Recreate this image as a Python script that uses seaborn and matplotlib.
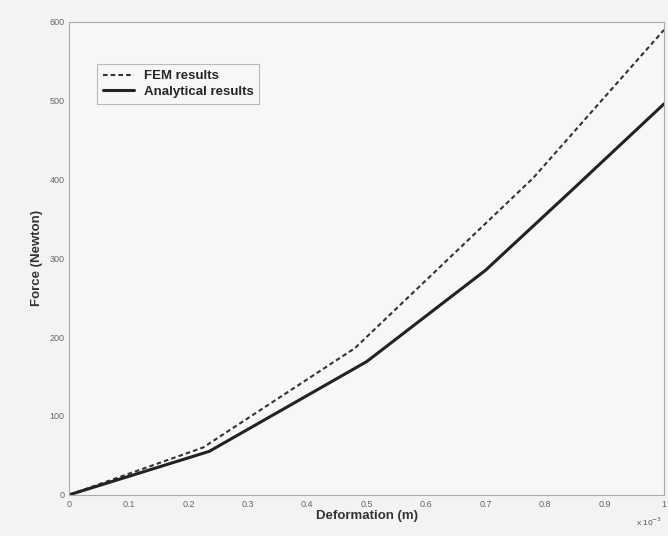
import matplotlib
matplotlib.use("Agg")
import matplotlib.pyplot as plt
import seaborn as sns
import pandas as pd

# Deformation in units of 1e-3 m
fem_x = [0.0, 0.225, 0.48, 0.78, 1.0]
fem_y = [0.0, 60.0, 186.0, 402.0, 590.0]
ana_x = [0.0, 0.235, 0.5, 0.7, 0.85, 1.0]
ana_y = [0.0, 55.0, 169.0, 285.0, 390.0, 496.0]
xticks = [0, 0.1, 0.2, 0.3, 0.4, 0.5, 0.6, 0.7, 0.8, 0.9, 1]
xtick_labels = ["0", "0.1", "0.2", "0.3", "0.4", "0.5", "0.6", "0.7", "0.8", "0.9", "1"]
yticks = [0, 100, 200, 300, 400, 500, 600]

sns.set_style("white")
plt.rcParams['font.family'] = ['Liberation Sans', 'DejaVu Sans']

fig = plt.figure(figsize=(6.68, 5.36), dpi=100, facecolor="#f3f3f3")
ax = fig.add_axes([0.104, 0.077, 0.890, 0.882])
ax.set_facecolor("#f7f7f7")

fem = pd.DataFrame({"x": fem_x, "y": fem_y})
ana = pd.DataFrame({"x": ana_x, "y": ana_y})
sns.lineplot(data=fem, x="x", y="y", ax=ax, color="#333333", lw=1.5,
             linestyle=(0, (2.2, 1.5)), label="FEM results")
sns.lineplot(data=ana, x="x", y="y", ax=ax, color="#222222", lw=2.2,
             label="Analytical results")

ax.set_xlim(0, 1)
ax.set_ylim(0, 600)
ax.set_xticks(xticks)
ax.set_xticklabels(xtick_labels)
ax.set_yticks(yticks)
ax.tick_params(direction="in", length=3, labelsize=6.5, colors="#999999",
               labelcolor="#666666")
for s in ax.spines.values():
    s.set_color("#aaaaaa")
    s.set_linewidth(0.8)

ax.set_xlabel("Deformation (m)", fontsize=9.5, fontweight="bold", color="#333333", labelpad=1)
ax.set_ylabel("Force (Newton)", fontsize=9.5, fontweight="bold", color="#333333", labelpad=5)
fig.text(0.972, 0.018, r"x 10$^{-3}$", fontsize=6, color="#555555", ha="center")

leg = ax.legend(loc="upper left", bbox_to_anchor=(0.035, 0.925), frameon=True,
                fancybox=False, edgecolor="#aaaaaa", facecolor="#f7f7f7",
                prop={"weight": "bold", "size": 9.5}, handlelength=2.4,
                borderpad=0.45, labelspacing=0.25, handletextpad=0.7)
leg.get_frame().set_linewidth(0.8)

fig.savefig("out.png", dpi=100, facecolor=fig.get_facecolor())
